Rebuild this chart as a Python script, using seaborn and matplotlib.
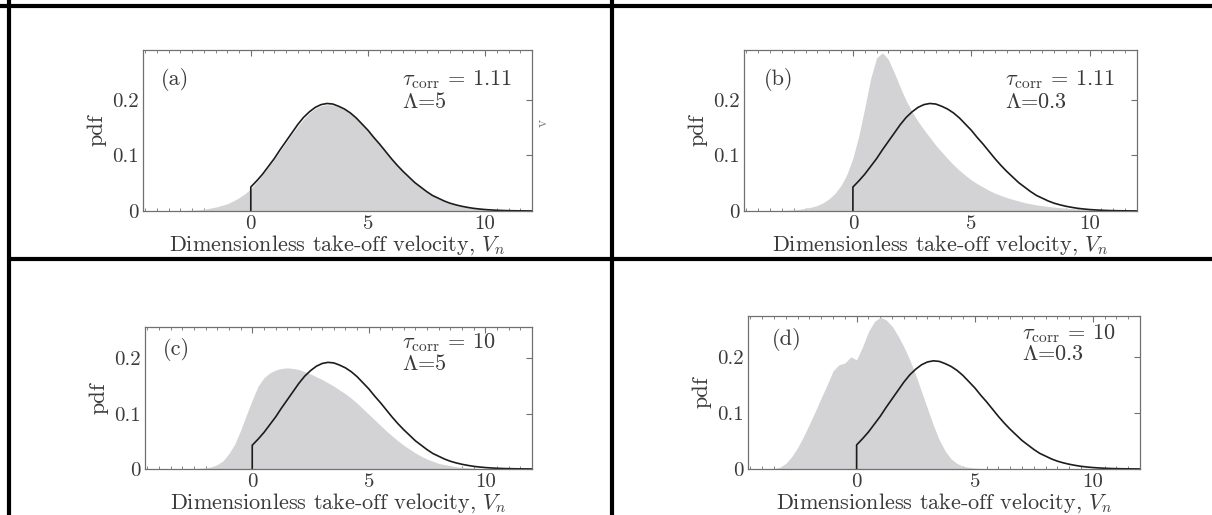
"""
Take-off velocity pdfs: simulated histograms (grey) against the model curve (black).
"""

import numpy as np
import pandas as pd
import matplotlib
matplotlib.use("Agg")
import matplotlib.pyplot as plt
import seaborn as sns

# ---- data ----
# histogram bins, centres every 0.25 from -4.5 to 12
bin_centers = np.arange(-4.5, 12.001, 0.25)
bin_width = 0.25

hist_a = [0, 0,
          0, 0, 0, 0.0003,
          0.0005, 0.001, 0.0015, 0.002,
          0.003, 0.005, 0.007, 0.010,
          0.013, 0.018, 0.024, 0.031,
          0.040, 0.052, 0.065, 0.079,
          0.093, 0.108, 0.123, 0.138,
          0.152, 0.165, 0.176, 0.184,
          0.189, 0.191, 0.190, 0.187,
          0.182, 0.175, 0.166, 0.155,
          0.144, 0.132, 0.119, 0.106,
          0.094, 0.082, 0.071, 0.060,
          0.050, 0.042, 0.034, 0.028,
          0.022, 0.017, 0.013, 0.010,
          0.008, 0.006, 0.0045, 0.0035,
          0.0025, 0.002, 0.0013, 0.001,
          0.0006, 0.0004, 0.0002, 0.0001,
          0]

hist_b = [0, 0,
          0, 0, 0.0003, 0.0005,
          0.001, 0.0015, 0.002, 0.003,
          0.005, 0.007, 0.010, 0.015,
          0.022, 0.032, 0.046, 0.066,
          0.095, 0.135, 0.185, 0.238,
          0.275, 0.284, 0.272, 0.248,
          0.222, 0.198, 0.178, 0.161,
          0.146, 0.132, 0.118, 0.106,
          0.094, 0.083, 0.073, 0.064,
          0.056, 0.049, 0.043, 0.037,
          0.032, 0.028, 0.024, 0.021,
          0.018, 0.015, 0.013, 0.011,
          0.0095, 0.008, 0.007, 0.006,
          0.005, 0.0043, 0.0037, 0.0032,
          0.0027, 0.0023, 0.002, 0.0017,
          0.0015, 0.0012, 0.001, 0.0008,
          0.0006]

hist_c = [0, 0,
          0, 0, 0, 0.0002,
          0.0003, 0.0005, 0.0008, 0.0012,
          0.002, 0.004, 0.008, 0.015,
          0.028, 0.045, 0.070, 0.098,
          0.125, 0.150, 0.165, 0.174,
          0.179, 0.182, 0.183, 0.182,
          0.180, 0.176, 0.172, 0.167,
          0.162, 0.156, 0.150, 0.143,
          0.136, 0.128, 0.119, 0.109,
          0.099, 0.089, 0.079, 0.069,
          0.060, 0.051, 0.043, 0.036,
          0.029, 0.023, 0.018, 0.014,
          0.010, 0.008, 0.006, 0.004,
          0.003, 0.002, 0.0015, 0.001,
          0.0008, 0.0006, 0.0004, 0.0003,
          0.0002, 0.0001, 0, 0,
          0]

hist_d = [0, 0,
          0, 0.0005, 0.001, 0.003,
          0.010, 0.022, 0.038, 0.058,
          0.080, 0.103, 0.127, 0.150,
          0.175, 0.186, 0.189, 0.200,
          0.195, 0.218, 0.245, 0.263,
          0.271, 0.266, 0.255, 0.238,
          0.218, 0.195, 0.168, 0.138,
          0.108, 0.078, 0.052, 0.032,
          0.018, 0.010, 0.005, 0.003,
          0.0015, 0.001, 0.0005, 0.0003,
          0, 0, 0, 0,
          0, 0, 0, 0,
          0, 0, 0, 0,
          0, 0, 0, 0,
          0, 0, 0, 0,
          0, 0, 0, 0,
          0]

# model pdf, truncated at V_n = 0 (first point closes the vertical edge)
curve_x = [0, 0, 0.25, 0.5, 0.75, 1.0, 1.25, 1.5, 1.75, 2.0, 2.25, 2.5, 2.75,
           3.0, 3.25, 3.5, 3.75, 4.0, 4.25, 4.5, 4.75, 5.0, 5.25, 5.5, 5.75,
           6.0, 6.25, 6.5, 6.75, 7.0, 7.25, 7.5, 7.75, 8.0, 8.25, 8.5, 8.75,
           9.0, 9.25, 9.5, 9.75, 10.0, 10.25, 10.5, 10.75, 11.0, 11.25, 11.5,
           11.75, 12.0]
curve_y = [0, 0.043, 0.054, 0.066, 0.080, 0.094, 0.110, 0.125, 0.140, 0.155,
           0.168, 0.178, 0.186, 0.191, 0.193, 0.192, 0.188, 0.183, 0.176,
           0.167, 0.156, 0.145, 0.132, 0.120, 0.107, 0.094, 0.082, 0.071,
           0.061, 0.051, 0.043, 0.035, 0.028, 0.023, 0.018, 0.014, 0.011,
           0.0085, 0.0065, 0.0048, 0.0036, 0.0026, 0.0019, 0.0013, 0.0009,
           0.0006, 0.0004, 0.0003, 0.0002, 0.0001]

panel_tags = ["(a)", "(b)", "(c)", "(d)"]
tau_labels = [r"$\tau_{\rm corr}$ = 1.11", r"$\tau_{\rm corr}$ = 1.11",
              r"$\tau_{\rm corr}$ = 10", r"$\tau_{\rm corr}$ = 10"]
lambda_labels = [r"$\Lambda$=5", r"$\Lambda$=0.3", r"$\Lambda$=5", r"$\Lambda$=0.3"]
ytick_labels = ["0", "0.1", "0.2"]
xtick_labels = ["0", "5", "10"]

# ---- style ----
sns.set_style("white")
plt.rcParams["font.family"] = ["serif"]
plt.rcParams["font.serif"] = ["cmr10", "DejaVu Serif"]
plt.rcParams["mathtext.fontset"] = "cm"
plt.rcParams["axes.formatter.use_mathtext"] = True
plt.rcParams["axes.unicode_minus"] = False

W, H = 1212, 515
fig = plt.figure(figsize=(W / 100, H / 100), dpi=100)

TEXT = "#3a3a3a"
SPINE = "#707070"
GREY = "#d3d3d5"
FS = 16

# axes boxes in pixels: left, right, top, bottom, y-top
boxes = [(143, 532, 50, 211, 0.289),
         (744, 1137, 50, 211, 0.289),
         (145, 532, 327, 469, 0.257),
         (748, 1140, 316, 469, 0.273)]
# text anchors in axes fractions: tag (x, y), tau (x, y), lambda y
text_pos = [((0.045, 0.78), (0.665, 0.78), 0.64),
            ((0.05, 0.78), (0.665, 0.78), 0.64),
            ((0.045, 0.80), (0.665, 0.85), 0.70),
            ((0.06, 0.81), (0.70, 0.85), 0.71)]

hists = [hist_a, hist_b, hist_c, hist_d]

for i, (l, r, t, b, ytop) in enumerate(boxes):
    ax = fig.add_axes([l / W, 1 - b / H, (r - l) / W, (b - t) / H])
    df = pd.DataFrame({"v": bin_centers, "pdf": hists[i]})
    sns.histplot(data=df, x="v", weights="pdf", binwidth=bin_width,
                 binrange=(bin_centers[0] - bin_width / 2, bin_centers[-1] + bin_width / 2),
                 stat="count", element="poly", fill=True, color=GREY, alpha=1,
                 linewidth=0, ax=ax)
    sns.lineplot(x=curve_x, y=curve_y, sort=False, estimator=None,
                 color="#1c1c1c", lw=1.2, ax=ax)

    ax.set_xlim(-4.6, 12)
    ax.set_ylim(0, ytop)
    ax.set_xticks([0, 5, 10])
    ax.set_xticklabels(xtick_labels)
    ax.set_xticks(np.arange(-4.5, 12.01, 0.5), minor=True)
    ax.set_yticks([0, 0.1, 0.2])
    ax.set_yticklabels(ytick_labels)
    ax.tick_params(which="major", direction="in", top=True, right=True,
                   length=4, width=0.8, color=SPINE, labelcolor=TEXT,
                   labelsize=FS - 1, pad=3)
    ax.tick_params(which="minor", direction="in", top=True, bottom=True,
                   length=2, width=0.6, color=SPINE)
    for sp in ax.spines.values():
        sp.set_color(SPINE)
        sp.set_linewidth(0.9)

    ax.set_xlabel(r"Dimensionless take-off velocity, $V_n$", fontsize=FS,
                  color=TEXT, labelpad=0)
    ax.set_ylabel("pdf", fontsize=FS, color=TEXT, labelpad=4)

    (tx, ty), (ux, uy), ly = text_pos[i]
    ax.text(tx, ty, panel_tags[i], transform=ax.transAxes, fontsize=FS,
            color=TEXT, va="baseline")
    ax.text(ux, uy, tau_labels[i], transform=ax.transAxes, fontsize=FS,
            color=TEXT, va="baseline")
    ax.text(ux, ly, lambda_labels[i], transform=ax.transAxes, fontsize=FS,
            color=TEXT, va="baseline")

# stray glyph to the right of panel (a)
fig.text(543 / W, 1 - 123 / H, "v", rotation=90, fontsize=11, color="#808080",
         ha="center", va="center")

# table frame
frame = [((0, 5.5), (W, 5.5)),
         ((9, 0), (9, H)),
         ((612, 0), (612, H)),
         ((9, 258.5), (W, 258.5))]
for (x0, y0), (x1, y1) in frame:
    fig.add_artist(plt.Line2D([x0 / W, x1 / W], [1 - y0 / H, 1 - y1 / H],
                              transform=fig.transFigure, color="black", lw=3))

fig.savefig("out.png", dpi=100)
